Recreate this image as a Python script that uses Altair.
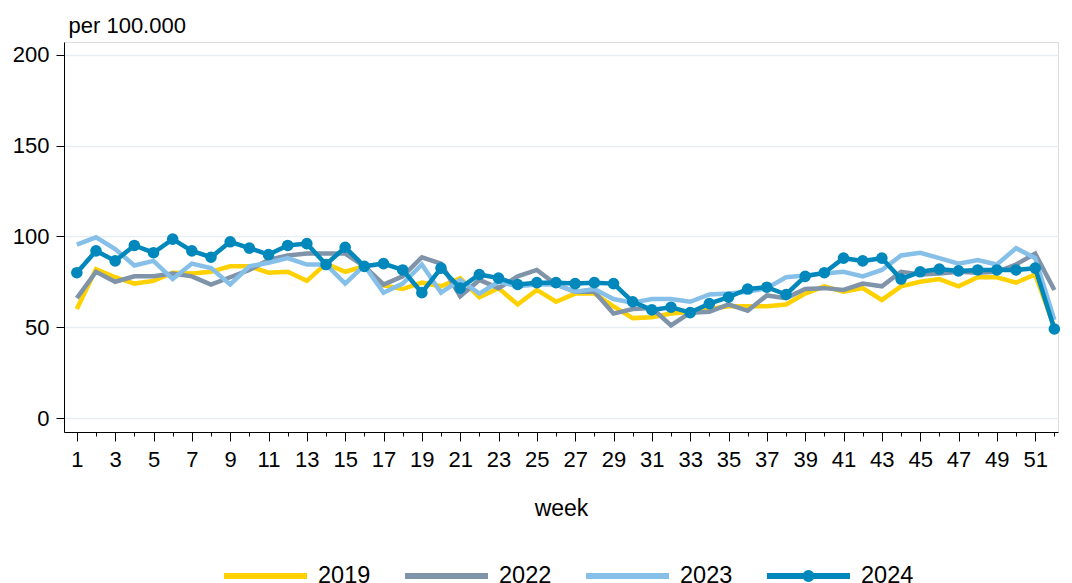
import altair as alt
import pandas as pd

weeks = list(range(1, 53))
odd_weeks = [w for w in weeks if w % 2 == 1]
even_weeks = [w for w in weeks if w % 2 == 0]
years = ["2019", "2022", "2023", "2024"]
colors = ["#FFD100", "#7F93A9", "#86C0E8", "#0088BC"]

v2019 = [60, 82, 77.5, 74, 75.5, 80, 79.5, 80.5, 83.5, 83.5, 80, 80.5, 75.5, 85, 80.5, 83.5,
         73, 71, 74.5, 72.5, 77, 66.5, 71.5, 62.5, 70.5, 64, 68.5, 68.5, 61.5, 55, 55.5, 57.5,
         58.5, 60, 61.5, 61.5, 61.5, 62.5, 68.5, 72.5, 69.5, 71.5, 65, 72.5, 75, 76.5, 72.5,
         77.5, 77.5, 74.5, 79, 50]
v2022 = [66, 80.5, 75, 78, 78, 79.5, 78, 73.5, 77.5, 81.5, 87, 89.5, 90.5, 90.5, 90.5, 83.5,
         73.5, 78, 88.5, 85, 67, 76, 71.5, 78, 81.5, 73.5, 69.5, 69.5, 57.5, 60, 60.5, 51, 58,
         58.5, 62.5, 59, 67.5, 66, 71, 71.5, 70.5, 74, 72.5, 80.5, 79, 79.5, 80.5, 80, 80.5,
         84.5, 90.5, 70.5]
v2023 = [95.5, 99.5, 93, 84, 86.5, 76.5, 85, 82.5, 73.5, 83.5, 85.5, 88, 84.5, 84.5, 74, 84,
         69, 74, 84.5, 69, 76, 68.5, 75, 72.5, 73.5, 73.5, 69.5, 71, 65.5, 63.5, 65.5, 65.5, 64,
         68, 68.5, 69.5, 71.5, 77.5, 78.5, 79.5, 80.5, 78, 81.5, 89.5, 91, 88, 85, 87, 84.5,
         93.5, 88, 54]
v2024 = [80, 92, 86.5, 95, 91, 98.5, 92, 88.5, 97, 93.5, 90, 95, 96, 84.5, 94, 83.5, 85, 81.5,
         69, 82.5, 71.5, 79, 77, 73.5, 74.5, 74.5, 74, 74.5, 74, 64, 59.5, 61, 58, 63, 66.5, 71,
         72, 68, 78, 80, 88, 86.5, 88, 76.5, 80.5, 82, 81, 81.5, 81.5, 81.5, 82.5, 49]

y_ticks = [0, 50, 100, 150, 200]

rows = []
for yr, vals in zip(years, [v2019, v2022, v2023, v2024]):
    for w, v in zip(weeks, vals):
        rows.append({"week": w, "year": yr, "value": v})
df = pd.DataFrame(rows)

FONT = "Liberation Sans"
dot_path = "M-1,0L1,0M-0.072,0A0.072,0.072,0,1,1,0.072,0A0.072,0.072,0,1,1,-0.072,0Z"
x_scale = alt.Scale(domain=[0.33, 52.19], nice=False, zero=False)

x_main = alt.X(
    "week:Q",
    scale=x_scale,
    axis=alt.Axis(
        orient="bottom",
        title="week",
        values=odd_weeks,
        labelOverlap=False,
        labelFlush=False,
        tickSize=9,
        labelPadding=8,
        labelFontSize=22,
        titleFontSize=23,
        titleFontWeight="normal",
        titlePadding=27,
        grid=False,
        domainColor="black",
        tickColor="black",
        labelColor="black",
        titleColor="black",
    ),
)
x_minor = alt.X(
    "week:Q",
    scale=x_scale,
    axis=alt.Axis(
        orient="bottom",
        title=None,
        values=even_weeks,
        labels=False,
        domain=False,
        tickSize=4,
        tickColor="black",
        grid=False,
    ),
)
y_enc = alt.Y(
    "value:Q",
    scale=alt.Scale(domain=[-7.7, 207], nice=False, zero=False),
    axis=alt.Axis(
        values=y_ticks,
        title="per 100.000",
        titleAngle=0,
        titleX=4,
        titleY=-10,
        titleAlign="left",
        titleBaseline="alphabetic",
        titleFontWeight="normal",
        titleFontSize=22,
        titleColor="black",
        grid=True,
        gridColor="#e6eef2",
        gridWidth=1.5,
        tickSize=8,
        labelPadding=7,
        labelFontSize=22,
        labelColor="black",
        domainColor="black",
        tickColor="black",
    ),
)

lines = alt.Chart(df).mark_line(strokeWidth=4.5).encode(
    x=x_main,
    y=y_enc,
    color=alt.Color(
        "year:N",
        scale=alt.Scale(domain=years, range=colors),
        legend=alt.Legend(
            orient="none",
            legendX=157,
            legendY=521,
            direction="horizontal",
            columns=4,
            title=None,
            padding=0,
            clipHeight=26,
            symbolType={"expr": "datum.value === '2024' ? '" + dot_path + "' : 'stroke'"},
            symbolSize=6889,
            symbolStrokeWidth=6,
            labelFontSize=23.5,
            labelFont=FONT,
            labelColor="black",
            labelOffset=8,
            columnPadding=31,
        ),
    ),
)

points = alt.Chart(df[df["year"] == "2024"]).mark_circle(
    size=135, opacity=1, color="#0088BC"
).encode(x=x_minor, y="value:Q")

chart = (
    alt.layer(lines, points)
    .resolve_axis(x="independent")
    .properties(width=994, height=390, padding={"left": 4, "top": 6, "right": 0, "bottom": 0})
    .configure_view(stroke=None)
    .configure(font=FONT)
)

chart.save("out.html", embed_options={"renderer": "svg", "actions": False})
